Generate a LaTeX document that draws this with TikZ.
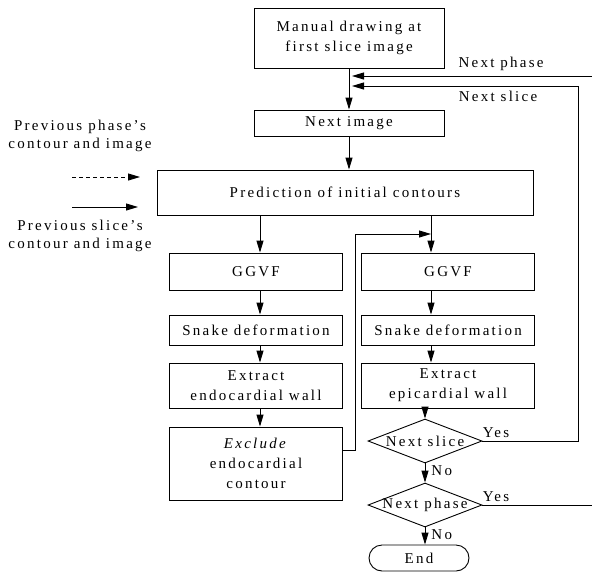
\documentclass[tikz,border=0pt]{standalone}
\usepackage{fontspec}
\setmainfont{Liberation Serif}[LetterSpace=15]
\usepackage{tikz}
\usetikzlibrary{positioning,arrows.meta,shapes}
\newcommand{\flowfont}{\fontsize{15pt}{20pt}\selectfont}
\newcommand{\notefont}{\fontsize{15pt}{18pt}\selectfont}
\tikzset{
  proc/.style={draw,line width=0.9pt,minimum width=173pt,minimum height=30pt,
            align=center,font=\flowfont,inner sep=1pt},
  decide/.style={draw,diamond,line width=0.9pt,minimum width=114pt,
            minimum height=44pt,inner sep=0pt,font=\flowfont},
  stop/.style={draw,rounded corners=13pt,line width=0.9pt,minimum width=100pt,
            minimum height=26pt,font=\flowfont},
  sidenote/.style={align=center,font=\notefont},
  flow/.style={-{Triangle[length=12pt,width=7pt]},line width=0.9pt},
  prevflow/.style={flow,dash pattern=on 4pt off 3pt},
}

\begin{document}
\begin{tikzpicture}[x=1pt,y=-1pt]
  \useasboundingbox (0,0) rectangle (592,574);
  % main column
  \node[proc,minimum width=190pt,minimum height=60pt] (manual) at (349,38)
        {Manual drawing at\\first slice image};
  \node[proc,minimum width=190pt,minimum height=26pt] (nextimg) at (349,123) {Next image};
  \node[proc,minimum width=376pt,minimum height=45pt] (predict) at (345,192.5)
        {Prediction of initial contours};
  % endocardial branch
  \node[proc,minimum height=37pt] (ggvfL) at (256,271.5) {GGVF};
  \node[proc] (snakeL) at (256,330) {Snake deformation};
  \node[proc,minimum height=45pt] (extractL) at (256,385.5) {Extract\\endocardial wall};
  \node[proc,minimum height=73pt] (exclude) at (256,463.5)
        {\textit{Exclude}\\endocardial\\contour};
  % epicardial branch
  \node[proc,minimum height=37pt] (ggvfR) at (448,271.5) {GGVF};
  \node[proc] (snakeR) at (448,330) {Snake deformation};
  \node[proc,minimum height=45pt] (extractR) at (448,385.5) {Extract\\epicardial wall};
  \node[decide] (slice) at (425,441) {\makebox[0pt]{Next slice}};
  \node[decide] (phase) at (425,505) {\makebox[0pt]{Next phase}};
  \node[stop] (endnode) at (419,558) {End};
  % legend on the left
  \node[sidenote] (prevP) at (80,136) {Previous phase's\\contour and image};
  \node[sidenote] (prevS) at (80,236) {Previous slice's\\contour and image};
  \coordinate (dashA) at (72,177);
  \coordinate (dashB) at (140,177);
  \coordinate (lineA) at (72,207);
  \coordinate (lineB) at (138,207);
  \draw[prevflow] (dashA) -- (dashB);
  \draw[flow] (lineA) -- (lineB);

  \coordinate (colL) at (260,0);
  \coordinate (colR) at (431,0);
  \coordinate (inP) at (352,76);
  \coordinate (inS) at (352,86);
  \coordinate (loopS) at (578,0);
  \coordinate (loopP) at (598,0);
  \coordinate (fbk) at (355,234);

  \draw[flow] (manual) -- (nextimg);
  \draw[flow] (nextimg.south) -- (nextimg.south |- predict.north);
  \draw[flow] (predict.south -| colL) -- (ggvfL.north -| colL);
  \draw[flow] (ggvfL.south -| colL) -- (snakeL.north -| colL);
  \draw[flow] (snakeL.south -| colL) -- (extractL.north -| colL);
  \draw[flow] (extractL.south -| colL) -- (exclude.north -| colL);
  \draw[flow] (predict.south -| colR) -- (ggvfR.north -| colR);
  \draw[flow] (ggvfR.south -| colR) -- (snakeR.north -| colR);
  \draw[flow] (snakeR.south -| colR) -- (extractR.north -| colR);
  \draw[flow] (extractR.south -| slice.north) -- (slice.north);
  \draw[flow] ([yshift=13.5pt]exclude.east) -| (fbk) -- (fbk -| colR);
  \draw[flow] (slice.south) -- node[right=6pt,pos=0.4,font=\flowfont,inner sep=0pt] {No} (phase.north);
  \draw[flow] (phase.south) -- node[right=6pt,pos=0.4,font=\flowfont,inner sep=0pt] {No}
        (phase.south |- endnode.north);
  % loops back to the top
  \draw[flow] (slice.east) node[above right,yshift=3pt,inner sep=0pt,font=\flowfont] {Yes}
        -| (loopS |- inS) -- node[pos=0.354,below=5pt,font=\flowfont,inner sep=0pt] {Next slice} (inS);
  \draw[flow] (phase.east) node[above right,yshift=3pt,inner sep=0pt,font=\flowfont] {Yes}
        -| (loopP |- inP) -- node[pos=0.394,above=5pt,font=\flowfont,inner sep=0pt] {Next phase} (inP);
\end{tikzpicture}
\end{document}
